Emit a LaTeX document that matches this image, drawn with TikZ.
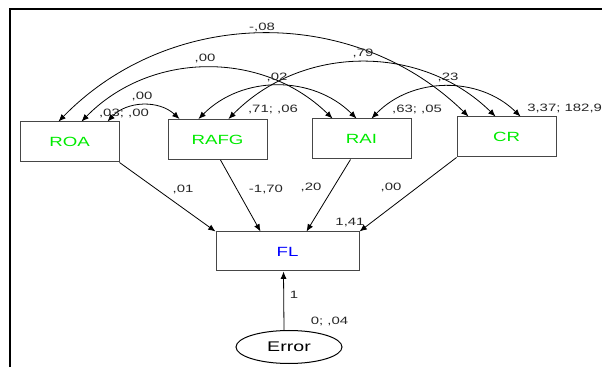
\documentclass[tikz,border=0pt]{standalone}
\usepackage{fontspec}
\setmainfont{Liberation Sans}
\newfontfamily\stretchsans[FakeStretch=1.4]{Liberation Sans}
\usetikzlibrary{calc,arrows.meta,shapes.geometric}
\definecolor{vargreen}{RGB}{0,235,0}
\definecolor{depblue}{RGB}{0,0,255}
\definecolor{boxgray}{RGB}{70,70,70}
\tikzset{
  varbox/.style={draw=boxgray,line width=0.75pt,minimum width=74.25pt,minimum height=30pt,inner sep=0pt,
    font=\stretchsans\fontsize{10pt}{12pt}\selectfont,text=vargreen},
  depbox/.style={varbox,minimum width=107.25pt,minimum height=29.25pt,text=depblue},
  errnode/.style={draw=black,ellipse,line width=0.75pt,minimum width=79.5pt,minimum height=24.75pt,inner sep=0pt,
    font=\stretchsans\fontsize{10.5pt}{12pt}\selectfont,text=black},
  numlabel/.style={font=\stretchsans\fontsize{8pt}{9.5pt}\selectfont,inner sep=0pt,text=black!85},
  patharrow/.style={-{Latex[length=5.5pt,width=4.5pt]},line width=0.6pt},
  covarrow/.style={{Latex[length=5.5pt,width=4.5pt]}-{Latex[length=5.5pt,width=4.5pt]},line width=0.6pt,bend left=45},
  framebar/.style={line width=1.5pt,black}
}
\begin{document}
\begin{tikzpicture}[x=0.75pt,y=0.75pt]
\useasboundingbox (0,0) rectangle (602,367);
% frame
\coordinate (fb) at (10,0);
\coordinate (fc) at (10,358);
\coordinate (fr) at (602,358);
\draw[framebar] (fb) -- (fc) -- (fr);

% nodes
\node[varbox] (ROA)  at (69.5,225)  {ROA};
\node[varbox] (RAFG) at (217.5,227.5) {RAFG};
\node[varbox] (RAI)  at (361.5,228) {RAI};
\node[varbox] (CR)   at (506.5,230) {CR};
\node[depbox] (FL)   at (287.5,115.5) {FL};
\node[errnode] (Err) at (289,20) {Error};

% arc end points
\coordinate (roa1) at ($(ROA.north west)+(39,0)$);
\coordinate (roa2) at ($(ROA.north west)+(62,0)$);
\coordinate (roa3) at ($(ROA.north west)+(88,0)$);
\coordinate (rafg1) at ($(RAFG.north west)+(12,0)$);
\coordinate (rafg2) at ($(RAFG.north west)+(31,0)$);
\coordinate (rafg3) at ($(RAFG.north west)+(61,0)$);
\coordinate (rai1) at ($(RAI.north west)+(21,0)$);
\coordinate (rai2) at ($(RAI.north west)+(45,0)$);
\coordinate (rai3) at ($(RAI.north west)+(60,0)$);
\coordinate (cr1) at ($(CR.north west)+(12,0)$);
\coordinate (cr2) at ($(CR.north west)+(39,0)$);
\coordinate (cr3) at ($(CR.north west)+(64,0)$);

% covariances
\draw[covarrow] (roa1) to (cr1);
\draw[covarrow] (roa2) to (rai1);
\draw[covarrow] (roa3) to (rafg1);
\draw[covarrow] (rafg2) to (rai2);
\draw[covarrow] (rafg3) to (cr2);
\draw[covarrow] (rai3) to (cr3);

% regression paths
\coordinate (rafgout) at ($(RAFG.south west)+(53,0)$);
\coordinate (raiout) at ($(RAI.south west)+(39,0)$);
\coordinate (flin2) at ($(FL.north west)+(45,0)$);
\coordinate (flin3) at ($(FL.north west)+(91,0)$);
\coordinate (errout) at ($(Err.north)+(-5,0)$);
\coordinate (flin5) at ($(FL.south west)+(68,0)$);
\draw[patharrow] (ROA.south east) -- (FL.north west);
\draw[patharrow] (rafgout) -- (flin2);
\draw[patharrow] (raiout) -- (flin3);
\draw[patharrow] (CR.south west) -- (FL.north east);
\draw[patharrow] (errout) -- (flin5);

% labels
\node[numlabel] (l1) at (262,340) {-,08};
\node[numlabel] (l2) at (363,314) {,79};
\node[numlabel] (l3) at (205,309) {,00};
\node[numlabel] (l4) at (277,290) {,02};
\node[numlabel] (l5) at (448,290) {,23};
\node[numlabel] (l6) at (142,271) {,00};
\node[numlabel] (l7) at (124,254) {,03; ,00};
\node[numlabel] (l8) at (273,258) {,71; ,06};
\node[numlabel] (l9) at (417,258) {,63; ,05};
\node[numlabel,anchor=west] (l10) at (527,259) {3,37; 182,9};
\node[numlabel] (l11) at (183,178) {,01};
\node[numlabel] (l12) at (266,178) {-1,70};
\node[numlabel] (l13) at (311,180) {,20};
\node[numlabel] (l14) at (391,180) {,00};
\node[numlabel] (l15) at (350,144) {1,41};
\node[numlabel] (l16) at (294,72) {1};
\node[numlabel] (l17) at (329.5,46) {0; ,04};
\end{tikzpicture}
\end{document}
